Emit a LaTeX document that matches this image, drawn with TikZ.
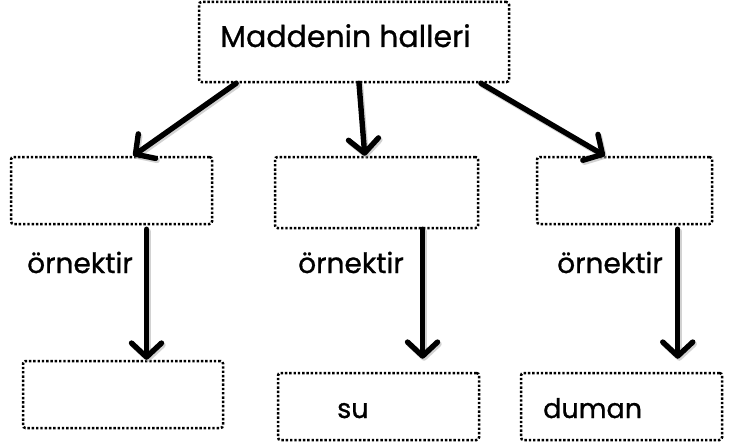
\documentclass[tikz,border=0pt]{standalone}
\usepackage{fontspec}
\setmainfont{Poppins}[FakeBold=0.9]
\usetikzlibrary{arrows.meta,calc}
\tikzset{
  dbox/.style={draw, line width=2.5pt, dash pattern=on 2.4pt off 1.9pt, rounded corners=2.5pt, inner sep=0pt},
  arr/.style={line width=5.4pt, line cap=round, -{Straight Barb[length=14pt, width=30pt, round]}},
  shd/.style={arr, draw=black!35, opacity=0.5, transform canvas={shift={(1.5pt,-2pt)}}},
  bigtxt/.style={anchor=base west, inner sep=0pt, font=\fontsize{30}{36}\selectfont},
  midtxt/.style={anchor=base west, inner sep=0pt, font=\fontsize{28}{33}\selectfont},
  smtxt/.style={anchor=base west, inner sep=0pt, font=\fontsize{27}{32}\selectfont},
}
\begin{document}
\begin{tikzpicture}[x=1pt,y=-1pt]
\useasboundingbox (0,0) rectangle (735,444);
% boxes
\node[dbox, minimum width=310pt, minimum height=80pt] (top) at (354,42) {};
\node[dbox, minimum width=201pt, minimum height=67pt] (m1) at (111.5,190.5) {};
\node[dbox, minimum width=203pt, minimum height=71pt] (m2) at (376.5,192.5) {};
\node[dbox, minimum width=175pt, minimum height=67pt] (m3) at (624.5,190.5) {};
\node[dbox, minimum width=200pt, minimum height=67pt] (b1) at (123,394.5) {};
\node[dbox, minimum width=201pt, minimum height=67pt] (b2) at (378.5,406.5) {};
\node[dbox, minimum width=201pt, minimum height=67pt] (b3) at (621.5,406.5) {};
% texts
\node[bigtxt] (t0) at (220,47) {Maddenin halleri};
\node[midtxt] (o1) at (27,273) {örnektir};
\node[midtxt] (o2) at (298,273) {örnektir};
\node[midtxt] (o3) at (557,273) {örnektir};
\node[smtxt] (s2) at (337,418) {su};
\node[smtxt] (s3) at (543,418) {duman};
% upper arrows
\coordinate (a1s) at ($(top.south west)!0.123!(top.south east)$);
\coordinate (a1e) at ($(m1.north west)!0.607!(m1.north east)$);
\coordinate (a2s) at ($(top.south west)!0.516!(top.south east)$);
\coordinate (a2e) at ($(m2.north west)!0.443!(m2.north east)$);
\coordinate (a3s) at ($(top.south west)!0.906!(top.south east)$);
\coordinate (a3e) at ($(m3.north west)!0.389!(m3.north east)$);
% lower arrows
\coordinate (l1) at ($(m1.south west)!0.672!(m1.south east)+(0,4)$);
\coordinate (l2) at ($(m2.south west)!0.724!(m2.south east)$);
\coordinate (l3) at ($(m3.south west)!0.8!(m3.south east)+(0,4)$);
% shadows
\draw[shd] (a1s) -- (a1e);
\draw[shd] (a2s) -- (a2e);
\draw[shd] (a3s) -- (a3e);
\draw[shd] (l1) -- (l1 |- b1.north);
\draw[shd, shorten >=13pt] (l2) -- (l2 |- b2.north);
\draw[shd, shorten >=13pt] (l3) -- (l3 |- b3.north);
% arrows
\draw[arr] (a1s) -- (a1e);
\draw[arr] (a2s) -- (a2e);
\draw[arr] (a3s) -- (a3e);
\draw[arr] (l1) -- (l1 |- b1.north);
\draw[arr, shorten >=13pt] (l2) -- (l2 |- b2.north);
\draw[arr, shorten >=13pt] (l3) -- (l3 |- b3.north);
\end{tikzpicture}
\end{document}
